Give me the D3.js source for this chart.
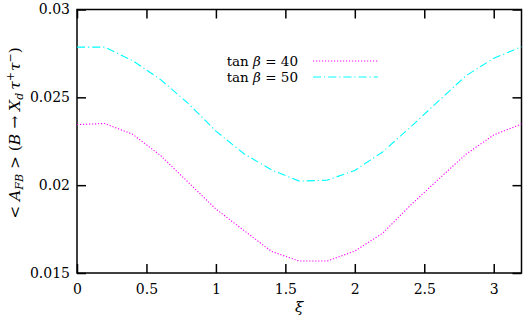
<!DOCTYPE html>
<html><head><meta charset="utf-8">
<script src="https://cdn.jsdelivr.net/npm/d3@7"></script>
<style>
body{margin:0;background:#fff;}
svg{display:block;}
</style></head>
<body>
<script>
const xi = [0,0.2,0.4,0.6,0.8,1.0,1.2,1.4,1.6,1.8,2.0,2.2,2.4,2.6,2.8,3.0,3.2];
const tan40 = [0.02345,0.02351,0.02290,0.02170,0.02017,0.01864,0.01743,0.01623,0.01568,0.01568,0.01625,0.01726,0.01885,0.02032,0.02176,0.02286,0.02348];
const tan50 = [0.02786,0.02786,0.02709,0.02602,0.02466,0.02308,0.02180,0.02087,0.02023,0.02028,0.02084,0.02189,0.02330,0.02477,0.02623,0.02722,0.02788];
const xTicks = [0,0.5,1,1.5,2,2.5,3];
const yTicks = [0.015,0.02,0.025,0.03];
const seriesNames = ["tan \u03B2 = 40","tan \u03B2 = 50"];

const FONT="'DejaVu Serif',serif";
const W=526,H=321;
const m={left:77,right:4.5,top:9.5,bottom:48};
const svg=d3.select("body").append("svg").attr("width",W).attr("height",H)
  .style("font-family",FONT);
const x=d3.scaleLinear().domain([0,3.2]).range([m.left,W-m.right]);
const y=d3.scaleLinear().domain([0.015,0.03]).range([H-m.bottom,m.top]);
const fs=14;

const tl=9;
function styleAxis(g){
  g.attr("font-family",null).attr("font-size",null);
  g.select(".domain").remove();
  g.selectAll("line").attr("stroke","#000").attr("stroke-width",1.5);
  g.selectAll("text").style("font-family",FONT).style("font-size",fs+"px").attr("fill","#000");
}
svg.append("g").attr("transform",`translate(0,${y.range()[0]})`)
  .call(d3.axisBottom(x).tickValues(xTicks).tickSize(-tl).tickPadding(11).tickFormat(d3.format("")))
  .call(styleAxis);
svg.append("g").attr("transform",`translate(0,${y.range()[1]})`)
  .call(d3.axisTop(x).tickValues(xTicks).tickSize(-tl).tickFormat(""))
  .call(styleAxis);
svg.append("g").attr("transform",`translate(${x.range()[0]},0)`)
  .call(d3.axisLeft(y).tickValues(yTicks).tickSize(-tl).tickPadding(7).tickFormat(d3.format("")))
  .call(styleAxis);
svg.append("g").attr("transform",`translate(${x.range()[1]},0)`)
  .call(d3.axisRight(y).tickValues(yTicks).tickSize(-tl).tickFormat(""))
  .call(styleAxis);

svg.append("rect").attr("x",x.range()[0]).attr("y",y.range()[1])
  .attr("width",x.range()[1]-x.range()[0]).attr("height",y.range()[0]-y.range()[1])
  .attr("fill","none").attr("stroke","#000").attr("stroke-width",1.5);

const line=d3.line().x((d,i)=>x(xi[i])).y(d=>y(d));
const styles=[{c:"#ff00ff",dash:"1.2,1.8"},{c:"#00ffff",dash:"8,3,1.2,3"}];
[tan40,tan50].forEach((s,k)=>{
  svg.append("path").datum(s).attr("d",line).attr("fill","none")
    .attr("stroke",styles[k].c).attr("stroke-width",1.1).attr("stroke-dasharray",styles[k].dash);
});

const ly=[61,77];
seriesNames.forEach((n,k)=>{
  const t=svg.append("text").attr("x",298).attr("y",ly[k]+5).attr("text-anchor","end")
    .style("font-size","13.5px");
  t.append("tspan").text("tan ");
  t.append("tspan").attr("font-style","italic").text("\u03B2");
  t.append("tspan").text(n.replace("tan \u03B2",""));
  svg.append("line").attr("x1",313).attr("x2",378).attr("y1",ly[k]).attr("y2",ly[k])
    .attr("stroke",styles[k].c).attr("stroke-width",1.1).attr("stroke-dasharray",styles[k].dash);
});

svg.append("text").attr("x",(x.range()[0]+x.range()[1])/2).attr("y",312).attr("text-anchor","middle")
  .style("font-size",(fs+1)+"px").attr("font-style","italic").text("\u03BE");

const yl=svg.append("text").attr("transform",`translate(20,${133}) rotate(-90)`)
  .attr("text-anchor","middle").style("font-size","15.5px");
yl.append("tspan").text("< ");
yl.append("tspan").attr("font-style","italic").text("A");
yl.append("tspan").attr("font-style","italic").style("font-size","11px").attr("dy",3).text("FB");
yl.append("tspan").attr("dy",-3).text(" > (");
yl.append("tspan").attr("font-style","italic").text("B");
yl.append("tspan").text(" \u2192 ");
yl.append("tspan").attr("font-style","italic").text("X");
yl.append("tspan").attr("font-style","italic").style("font-size","11px").attr("dy",3).text("d");
yl.append("tspan").attr("font-style","italic").attr("dy",-3).attr("dx",3).text("\u03C4");
yl.append("tspan").style("font-size","11px").attr("dy",-6).text("+");
yl.append("tspan").attr("font-style","italic").attr("dy",6).attr("dx",1).text("\u03C4");
yl.append("tspan").style("font-size","11px").attr("dy",-6).text("\u2212");
yl.append("tspan").attr("dy",6).text(")");
</script>
</body></html>
